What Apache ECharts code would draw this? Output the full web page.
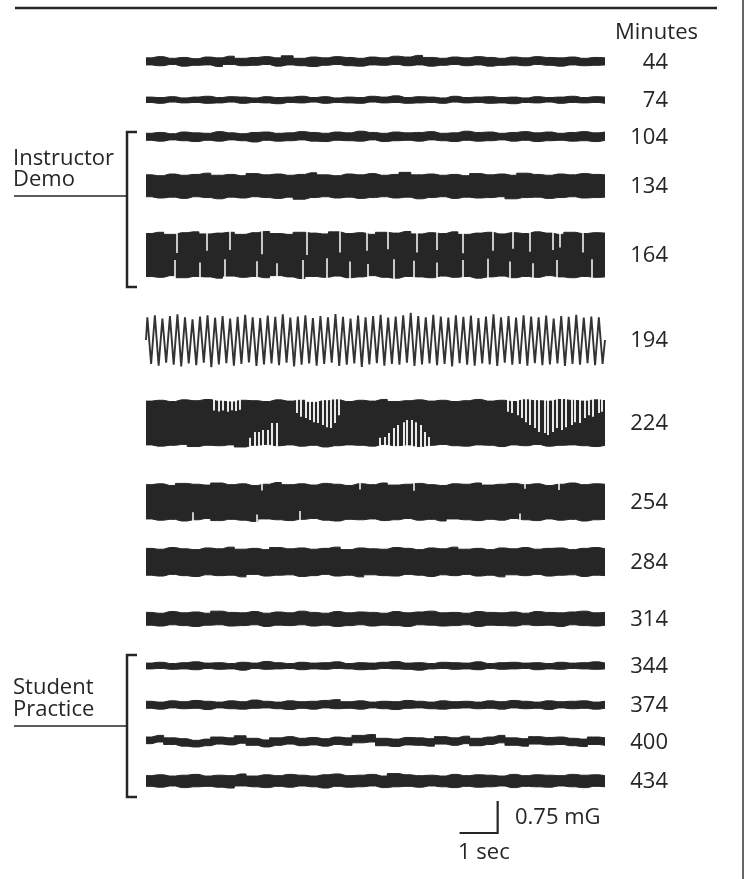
<!DOCTYPE html>
<html>
<head>
<meta charset="utf-8">
<script src="https://cdn.jsdelivr.net/npm/echarts@6/dist/echarts.min.js"></script>
<style>
html,body{margin:0;padding:0;background:#fff;}
#chart{width:746px;height:879px;}
</style>
</head>
<body>
<div id="chart"></div>
<script>
// ---------------- DATA (values in mG, time in seconds) ----------------
const traceMinutes = [44, 74, 104, 134, 164, 194, 224, 254, 284, 314, 344, 374, 400, 434];
const traceDuration = 12.4; // seconds shown per trace
const groupLabels = [["Instructor", "Demo"], ["Student", "Practice"]];
const scaleLabels = ["0.75 mG", "1 sec"];
const scaleBar = { seconds: 1, mG: 0.75 };
const headerLabel = "Minutes";

// envelope (upper / lower edge) of each noisy trace, 40 samples across 12.4 s
const up44 = [0.10,0.13,0.09,0.11,0.08,0.12,0.10,0.14,0.09,0.11,0.13,0.10,0.15,0.09,0.12,0.10,0.13,0.11,0.09,0.12,0.10,0.14,0.12,0.16,0.11,0.09,0.12,0.10,0.13,0.11,0.09,0.12,0.10,0.13,0.11,0.10,0.12,0.09,0.11,0.10];
const lo44 = [-0.07,-0.09,-0.06,-0.10,-0.08,-0.07,-0.11,-0.06,-0.09,-0.08,-0.06,-0.10,-0.07,-0.09,-0.11,-0.08,-0.06,-0.09,-0.10,-0.07,-0.08,-0.06,-0.09,-0.07,-0.10,-0.08,-0.06,-0.09,-0.07,-0.10,-0.08,-0.07,-0.09,-0.06,-0.08,-0.10,-0.07,-0.09,-0.08,-0.07];
const up74 = [0.07,0.06,0.08,0.05,0.07,0.09,0.06,0.08,0.07,0.05,0.08,0.06,0.07,0.09,0.06,0.08,0.05,0.07,0.06,0.09,0.07,0.10,0.06,0.08,0.07,0.05,0.09,0.06,0.07,0.08,0.06,0.07,0.05,0.08,0.06,0.07,0.09,0.06,0.08,0.07];
const lo74 = [-0.06,-0.08,-0.05,-0.07,-0.06,-0.08,-0.07,-0.05,-0.08,-0.06,-0.07,-0.09,-0.06,-0.07,-0.05,-0.08,-0.06,-0.07,-0.08,-0.05,-0.07,-0.06,-0.08,-0.07,-0.06,-0.08,-0.05,-0.07,-0.06,-0.08,-0.07,-0.09,-0.06,-0.07,-0.05,-0.08,-0.06,-0.07,-0.06,-0.08];
const up104 = [0.09,0.11,0.08,0.12,0.10,0.09,0.13,0.10,0.08,0.11,0.12,0.09,0.10,0.13,0.11,0.09,0.12,0.10,0.14,0.11,0.09,0.12,0.10,0.11,0.13,0.09,0.10,0.14,0.11,0.12,0.09,0.11,0.13,0.10,0.12,0.09,0.11,0.13,0.10,0.12];
const lo104 = [-0.08,-0.10,-0.07,-0.09,-0.11,-0.08,-0.10,-0.07,-0.09,-0.12,-0.08,-0.10,-0.09,-0.07,-0.10,-0.11,-0.08,-0.09,-0.10,-0.07,-0.11,-0.09,-0.08,-0.10,-0.07,-0.09,-0.11,-0.08,-0.10,-0.09,-0.07,-0.10,-0.08,-0.11,-0.09,-0.08,-0.10,-0.09,-0.11,-0.08];
const up134 = [0.27,0.25,0.29,0.26,0.28,0.31,0.26,0.28,0.25,0.30,0.27,0.29,0.26,0.28,0.32,0.27,0.25,0.29,0.27,0.30,0.26,0.28,0.33,0.27,0.29,0.26,0.28,0.25,0.30,0.27,0.29,0.26,0.31,0.28,0.26,0.29,0.27,0.30,0.28,0.27];
const lo134 = [-0.26,-0.29,-0.27,-0.30,-0.26,-0.28,-0.31,-0.27,-0.29,-0.26,-0.28,-0.30,-0.27,-0.32,-0.28,-0.26,-0.29,-0.27,-0.30,-0.28,-0.26,-0.29,-0.27,-0.31,-0.28,-0.26,-0.30,-0.27,-0.29,-0.28,-0.26,-0.31,-0.28,-0.27,-0.30,-0.28,-0.26,-0.29,-0.28,-0.27];
const up164 = [0.52,0.55,0.50,0.54,0.56,0.51,0.53,0.55,0.50,0.54,0.57,0.52,0.50,0.55,0.53,0.51,0.56,0.52,0.54,0.50,0.55,0.53,0.57,0.51,0.54,0.52,0.56,0.50,0.53,0.55,0.51,0.54,0.52,0.56,0.53,0.50,0.55,0.52,0.54,0.53];
const lo164 = [-0.52,-0.54,-0.50,-0.55,-0.52,-0.53,-0.56,-0.51,-0.54,-0.52,-0.55,-0.50,-0.53,-0.57,-0.52,-0.54,-0.51,-0.55,-0.53,-0.50,-0.54,-0.56,-0.52,-0.53,-0.55,-0.51,-0.54,-0.52,-0.56,-0.53,-0.51,-0.55,-0.52,-0.54,-0.50,-0.53,-0.55,-0.52,-0.54,-0.53];
const up224 = [0.53,0.55,0.52,0.56,0.54,0.57,0.53,0.51,0.55,0.54,0.52,0.56,0.53,0.55,0.50,0.54,0.56,0.52,0.55,0.53,0.57,0.52,0.54,0.56,0.53,0.55,0.52,0.54,0.57,0.53,0.55,0.52,0.56,0.54,0.53,0.57,0.55,0.53,0.56,0.54];
const lo224 = [-0.53,-0.56,-0.54,-0.52,-0.57,-0.54,-0.55,-0.53,-0.58,-0.54,-0.52,-0.55,-0.53,-0.56,-0.54,-0.58,-0.55,-0.53,-0.54,-0.56,-0.52,-0.55,-0.53,-0.57,-0.54,-0.52,-0.55,-0.56,-0.53,-0.54,-0.57,-0.53,-0.55,-0.52,-0.56,-0.54,-0.53,-0.55,-0.57,-0.54];
const up254 = [0.42,0.44,0.40,0.45,0.43,0.41,0.46,0.42,0.44,0.40,0.43,0.47,0.42,0.44,0.41,0.45,0.43,0.40,0.44,0.42,0.46,0.41,0.43,0.45,0.42,0.40,0.44,0.43,0.46,0.41,0.43,0.45,0.42,0.44,0.40,0.43,0.46,0.42,0.44,0.43];
const lo254 = [-0.41,-0.44,-0.42,-0.46,-0.43,-0.40,-0.45,-0.42,-0.44,-0.47,-0.41,-0.43,-0.45,-0.42,-0.40,-0.44,-0.46,-0.42,-0.43,-0.41,-0.45,-0.43,-0.40,-0.44,-0.42,-0.46,-0.41,-0.43,-0.45,-0.42,-0.44,-0.40,-0.43,-0.45,-0.41,-0.44,-0.42,-0.46,-0.43,-0.42];
const up284 = [0.33,0.31,0.35,0.32,0.30,0.34,0.32,0.36,0.31,0.33,0.30,0.35,0.32,0.34,0.31,0.33,0.36,0.30,0.34,0.32,0.31,0.35,0.33,0.30,0.34,0.32,0.36,0.31,0.33,0.30,0.34,0.32,0.35,0.31,0.33,0.34,0.30,0.33,0.35,0.32];
const lo284 = [-0.32,-0.34,-0.30,-0.33,-0.35,-0.31,-0.33,-0.32,-0.36,-0.30,-0.34,-0.32,-0.31,-0.35,-0.33,-0.30,-0.34,-0.32,-0.36,-0.31,-0.33,-0.34,-0.30,-0.32,-0.35,-0.31,-0.33,-0.30,-0.34,-0.32,-0.36,-0.31,-0.33,-0.30,-0.34,-0.32,-0.31,-0.35,-0.32,-0.33];
const up314 = [0.16,0.14,0.18,0.15,0.17,0.14,0.19,0.16,0.15,0.18,0.14,0.17,0.15,0.19,0.16,0.14,0.18,0.15,0.17,0.16,0.14,0.18,0.15,0.17,0.19,0.15,0.16,0.14,0.18,0.16,0.15,0.17,0.14,0.18,0.16,0.15,0.17,0.19,0.15,0.16];
const lo314 = [-0.15,-0.17,-0.14,-0.16,-0.18,-0.15,-0.14,-0.17,-0.16,-0.14,-0.18,-0.15,-0.16,-0.14,-0.17,-0.15,-0.18,-0.16,-0.14,-0.17,-0.15,-0.16,-0.18,-0.14,-0.15,-0.17,-0.16,-0.14,-0.18,-0.15,-0.16,-0.17,-0.14,-0.16,-0.15,-0.18,-0.14,-0.16,-0.17,-0.15];
const up344 = [0.07,0.09,0.06,0.08,0.10,0.07,0.08,0.06,0.09,0.07,0.11,0.08,0.06,0.09,0.07,0.08,0.10,0.06,0.08,0.07,0.09,0.11,0.07,0.08,0.06,0.09,0.08,0.07,0.10,0.06,0.08,0.09,0.07,0.08,0.06,0.09,0.07,0.08,0.10,0.07];
const lo344 = [-0.07,-0.06,-0.08,-0.07,-0.09,-0.06,-0.08,-0.07,-0.10,-0.06,-0.08,-0.07,-0.06,-0.09,-0.07,-0.08,-0.06,-0.07,-0.09,-0.08,-0.06,-0.07,-0.08,-0.10,-0.07,-0.06,-0.08,-0.07,-0.09,-0.06,-0.08,-0.07,-0.06,-0.09,-0.07,-0.08,-0.06,-0.07,-0.08,-0.07];
const up374 = [0.09,0.07,0.10,0.08,0.11,0.09,0.07,0.10,0.08,0.12,0.09,0.07,0.10,0.08,0.09,0.11,0.13,0.08,0.10,0.07,0.09,0.08,0.11,0.09,0.07,0.10,0.08,0.09,0.07,0.10,0.08,0.11,0.09,0.07,0.10,0.08,0.09,0.10,0.07,0.09];
const lo374 = [-0.08,-0.10,-0.07,-0.09,-0.08,-0.11,-0.07,-0.09,-0.10,-0.08,-0.07,-0.09,-0.11,-0.08,-0.10,-0.07,-0.09,-0.08,-0.10,-0.07,-0.09,-0.11,-0.08,-0.07,-0.09,-0.10,-0.08,-0.07,-0.09,-0.08,-0.10,-0.07,-0.09,-0.08,-0.11,-0.07,-0.09,-0.08,-0.10,-0.08];
const up400 = [0.12,0.16,0.10,0.08,0.04,0.07,0.12,0.10,0.15,0.09,0.05,0.10,0.13,0.09,0.11,0.08,0.12,0.10,0.16,0.18,0.09,0.07,0.11,0.10,0.08,0.13,0.10,0.14,0.09,0.12,0.16,0.10,0.08,0.13,0.11,0.12,0.09,0.07,0.12,0.10];
const lo400 = [-0.04,0.00,-0.06,-0.10,-0.12,-0.09,-0.05,-0.07,-0.03,-0.08,-0.12,-0.08,-0.05,-0.09,-0.07,-0.10,-0.06,-0.08,-0.02,0.00,-0.09,-0.11,-0.07,-0.08,-0.10,-0.05,-0.08,-0.04,-0.09,-0.06,-0.02,-0.08,-0.10,-0.05,-0.07,-0.06,-0.09,-0.11,-0.06,-0.08];
const up434 = [0.13,0.15,0.12,0.14,0.16,0.12,0.14,0.13,0.17,0.12,0.15,0.13,0.16,0.14,0.12,0.15,0.17,0.13,0.14,0.16,0.12,0.18,0.15,0.13,0.14,0.12,0.16,0.13,0.15,0.14,0.12,0.16,0.13,0.15,0.14,0.13,0.16,0.14,0.15,0.13];
const lo434 = [-0.13,-0.15,-0.12,-0.16,-0.14,-0.13,-0.15,-0.17,-0.12,-0.14,-0.16,-0.13,-0.15,-0.12,-0.14,-0.17,-0.13,-0.15,-0.14,-0.12,-0.16,-0.14,-0.13,-0.15,-0.12,-0.14,-0.16,-0.13,-0.15,-0.14,-0.12,-0.16,-0.13,-0.14,-0.15,-0.12,-0.14,-0.16,-0.13,-0.14];

// 194 min: resolved ~5 Hz oscillation, peak values of each cycle (61 cycles)
const peaksTop194 = [0.55,0.60,0.52,0.58,0.62,0.55,0.50,0.57,0.60,0.54, 0.58,0.52,0.56,0.61,0.55,0.53,0.59,0.56,0.62,0.54, 0.57,0.60,0.53,0.58,0.55,0.63,0.56,0.52,0.59,0.55, 0.58,0.61,0.54,0.57,0.60,0.66,0.58,0.55,0.61,0.57, 0.54,0.60,0.56,0.59,0.53,0.57,0.62,0.55,0.58,0.54, 0.60,0.57,0.55,0.59,0.52,0.58,0.56,0.61,0.54,0.57, 0.55];
const peaksBot194 = [-0.58,-0.62,-0.55,-0.60,-0.64,-0.57,-0.61,-0.55,-0.66,-0.59, -0.56,-0.62,-0.58,-0.54,-0.63,-0.59,-0.57,-0.61,-0.55,-0.64, -0.60,-0.57,-0.62,-0.58,-0.55,-0.63,-0.60,-0.57,-0.65,-0.59, -0.56,-0.62,-0.58,-0.60,-0.55,-0.63,-0.59,-0.57,-0.61,-0.58, -0.64,-0.56,-0.60,-0.62,-0.57,-0.59,-0.63,-0.55,-0.60,-0.58, -0.62,-0.56,-0.61,-0.59,-0.57,-0.63,-0.58,-0.60,-0.56,-0.61, -0.58];

// resolved excursions (white gaps) inside the saturated bands: times (s) and tip levels (mG)
const gapTopT164 = [0.84,1.65,2.27,3.14,4.35,5.24,5.97,6.54,7.32,7.86,8.57,9.38,9.92,10.38,11.00,11.19,11.81];
const gapTopV164 = [0.05,0.10,0.12,0.02,0.00,0.06,0.10,0.14,0.06,0.12,0.04,0.10,0.15,0.08,0.12,0.18,0.06];
const gapBotT164 = [0.78,1.46,2.14,3.00,3.54,4.24,4.89,5.51,6.00,6.68,7.22,7.86,8.57,9.22,9.84,10.46,11.11,12.05];
const gapBotV164 = [-0.12,-0.18,-0.10,-0.15,-0.20,-0.12,-0.08,-0.16,-0.22,-0.10,-0.14,-0.18,-0.12,-0.09,-0.16,-0.20,-0.12,-0.10];
const gapTopT224 = [1.84,1.97,2.08,2.22,2.32,2.43,2.54, 4.08,4.19,4.32,4.43,4.54,4.65,4.78,4.89,5.00,5.11,5.22, 9.78,9.89,10.03,10.14,10.27,10.38,10.51,10.62,10.76,10.86,11.00,11.11,11.24,11.35,11.49,11.59,11.73,11.84,11.97,12.08,12.22,12.32];
const gapTopV224 = [0.30,0.28,0.30,0.27,0.31,0.29,0.32, 0.24,0.15,0.12,0.07,0.02,0.00,-0.05,-0.10,-0.12,0.00,0.19, 0.27,0.24,0.19,0.12,0.02,-0.05,-0.12,-0.22,-0.24,-0.29,-0.22,-0.12,-0.17,-0.10,-0.05,0.02,0.00,0.12,0.19,0.15,0.24,0.27];
const gapBotT224 = [2.81,2.95,3.05,3.16,3.30,3.41,3.54, 6.32,6.46,6.57,6.70,6.81,6.95,7.05,7.19,7.30,7.43,7.54,7.65];
const gapBotV224 = [-0.36,-0.22,-0.22,-0.17,-0.17,0.00,0.00, -0.36,-0.34,-0.24,-0.12,-0.05,0.02,0.07,0.07,0.02,-0.05,-0.22,-0.34];
const gapTopT254 = [3.14,5.78,7.22,10.24,11.14];
const gapTopV254 = [0.28,0.30,0.27,0.32,0.29];
const gapBotT254 = [1.27,3.00,4.16,10.11];
const gapBotV254 = [-0.25,-0.30,-0.22,-0.28];

// ---------------- LAYOUT / STYLE ----------------
const INK = '#262626';
const FONT = '"Open Sans", "Noto Sans", sans-serif';
const FONT_SIZE = 22;
const plotLeft = 146, plotWidth = 459;
const pxPerMG = 41.3;
const halfRange = 0.75;              // mG shown above/below each trace centre
const rowCenterPx = [62, 100, 137, 186, 255, 340, 423, 502, 562, 619, 666, 705, 742, 781];

const envelopes = {
  44: [up44, lo44], 74: [up74, lo74], 104: [up104, lo104], 134: [up134, lo134],
  164: [up164, lo164], 224: [up224, lo224], 254: [up254, lo254], 284: [up284, lo284],
  314: [up314, lo314], 344: [up344, lo344], 374: [up374, lo374], 400: [up400, lo400], 434: [up434, lo434]
};
const gaps = {
  164: [[gapTopT164, gapTopV164, 0.62], [gapBotT164, gapBotV164, -0.62]],
  224: [[gapTopT224, gapTopV224, 0.64], [gapBotT224, gapBotV224, -0.64]],
  254: [[gapTopT254, gapTopV254, 0.52], [gapBotT254, gapBotV254, -0.52]]
};

const grids = [], xAxes = [], yAxes = [], series = [], graphics = [];
const hPx = 2 * halfRange * pxPerMG;
const font = FONT_SIZE + 'px ' + FONT;

traceMinutes.forEach((m, i) => {
  grids.push({ left: plotLeft, width: plotWidth, top: rowCenterPx[i] - hPx / 2, height: hPx });
  xAxes.push({ gridIndex: i, type: 'value', min: 0, max: traceDuration, show: false });
  yAxes.push({ gridIndex: i, type: 'value', min: -halfRange, max: halfRange, show: false });

  if (envelopes[m]) {
    const [u, l] = envelopes[m];
    const n = u.length;
    const t = u.map((_, j) => j * traceDuration / (n - 1));
    [u, l].forEach(arr => {
      series.push({
        type: 'line', xAxisIndex: i, yAxisIndex: i, silent: true,
        symbol: 'none', step: 'middle', data: arr.map((v, j) => [t[j], v]),
        lineStyle: { color: INK, width: 1 },
        areaStyle: { color: INK, opacity: 1, origin: 'auto' },
        z: 2
      });
    });
  } else {
    // resolved oscillation drawn from its peaks
    const nCyc = Math.min(peaksTop194.length, peaksBot194.length);
    const P = traceDuration / nCyc;
    const pts = [[0, 0]];
    for (let k = 0; k < nCyc; k++) {
      pts.push([(k + 0.18) * P, peaksTop194[k]]);
      pts.push([(k + 0.32) * P, peaksTop194[k]]);
      pts.push([(k + 0.68) * P, peaksBot194[k]]);
      pts.push([(k + 0.82) * P, peaksBot194[k]]);
    }
    pts.push([traceDuration, 0]);
    series.push({
      type: 'line', xAxisIndex: i, yAxisIndex: i, silent: true,
      symbol: 'none', data: pts,
      lineStyle: { color: '#333333', width: 1.9 }, z: 2
    });
  }

  if (gaps[m]) {
    const lineData = [];
    gaps[m].forEach(([ts, vs, edge]) => {
      ts.forEach((tt, j) => lineData.push({ coords: [[tt, edge], [tt, vs[j]]] }));
    });
    series.push({
      type: 'lines', coordinateSystem: 'cartesian2d', xAxisIndex: i, yAxisIndex: i,
      silent: true, data: lineData,
      lineStyle: { color: '#ffffff', width: m === 224 ? 1.8 : 1.5, opacity: 1 },
      z: 5
    });
  }

  graphics.push({
    type: 'text', silent: true,
    style: { text: String(m), x: 668, y: rowCenterPx[i] + 1, font: font, fill: INK, align: 'right', verticalAlign: 'middle' }
  });
});

// scale bar grid (same time / field scale)
const sIdx = traceMinutes.length;
grids.push({ left: plotLeft, width: plotWidth, top: 802, height: scaleBar.mG * pxPerMG });
xAxes.push({ gridIndex: sIdx, type: 'value', min: 0, max: traceDuration, show: false });
yAxes.push({ gridIndex: sIdx, type: 'value', min: 0, max: scaleBar.mG, show: false });
const sx0 = 8.5;
series.push({
  type: 'line', xAxisIndex: sIdx, yAxisIndex: sIdx, silent: true, symbol: 'none',
  data: [[sx0, 0], [sx0 + scaleBar.seconds, 0], [sx0 + scaleBar.seconds, scaleBar.mG]],
  lineStyle: { color: INK, width: 2.2, cap: 'square', join: 'miter' }
});

// texts & decorations
graphics.push({ type: 'text', silent: true, style: { text: headerLabel, x: 698, y: 33, font: font, fill: INK, align: 'right', verticalAlign: 'middle' } });
graphics.push({ type: 'text', silent: true, style: { text: scaleLabels[0], x: 515, y: 818, font: font, fill: INK, align: 'left', verticalAlign: 'middle' } });
graphics.push({ type: 'text', silent: true, style: { text: scaleLabels[1], x: 458, y: 853, font: font, fill: INK, align: 'left', verticalAlign: 'middle' } });

const brackets = [
  { top: 132, bottom: 287, labelY: [159, 180], ruleY: 196 },
  { top: 655, bottom: 797, labelY: [688, 710], ruleY: 726 }
];
brackets.forEach((b, k) => {
  graphics.push({ type: 'polyline', silent: true, shape: { points: [[137, b.top], [127, b.top], [127, b.bottom], [137, b.bottom]] }, style: { stroke: INK, lineWidth: 2.5, fill: null, lineJoin: 'miter' } });
  graphics.push({ type: 'line', silent: true, shape: { x1: 14, y1: b.ruleY, x2: 127, y2: b.ruleY }, style: { stroke: INK, lineWidth: 1.5 } });
  groupLabels[k].forEach((txt, r) => {
    graphics.push({ type: 'text', silent: true, style: { text: txt, x: 13, y: b.labelY[r], font: font, fill: INK, align: 'left', verticalAlign: 'middle' } });
  });
});
graphics.push({ type: 'line', silent: true, shape: { x1: 15, y1: 8, x2: 717, y2: 8 }, style: { stroke: INK, lineWidth: 2.3 } });
graphics.push({ type: 'line', silent: true, shape: { x1: 743, y1: 0, x2: 743, y2: 879 }, style: { stroke: '#666', lineWidth: 2 } });

const chart = echarts.init(document.getElementById('chart'), null, { renderer: 'canvas' });
chart.setOption({
  animation: false,
  backgroundColor: '#ffffff',
  grid: grids, xAxis: xAxes, yAxis: yAxes,
  series: series,
  graphic: graphics
});
</script>
</body>
</html>
